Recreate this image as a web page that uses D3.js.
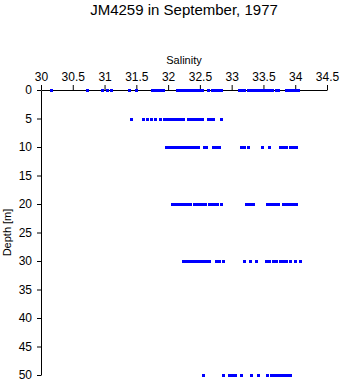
<!DOCTYPE html>
<html>
<head>
  <meta charset="utf-8">
  <title>JM4259 salinity</title>
  <script src="https://d3js.org/d3.v7.min.js"></script>
  <style>
    body { margin: 0; background: #fff; }
    text { font-family: "Liberation Sans", Arial, sans-serif; fill: #000; }
    .axis path, .axis line { stroke: #000; stroke-width: 1; }
  </style>
</head>
<body>
<div id="chart"></div>
<script>
// salinity readings at each sampled depth
var depths = [0, 5, 10, 20, 30, 50];
var sal0 = [30.16, 30.73, 30.96, 31.04, 31.10, 31.38, 31.49, 31.74, 31.78, 31.83, 31.88, 31.92,
  32.14, 32.18, 32.22, 32.26, 32.30, 32.34, 32.38, 32.42, 32.46, 32.50, 32.53, 32.62, 32.69,
  32.74, 32.79, 32.83, 33.11, 33.16, 33.20, 33.25, 33.30, 33.34, 33.38, 33.43, 33.48, 33.52,
  33.57, 33.60, 33.64, 33.69, 33.73, 33.85, 33.89, 33.93, 33.97, 34.01, 34.05];
var sal5 = [31.41, 31.61, 31.67, 31.73, 31.79, 31.88, 31.93, 31.97, 32.02, 32.06, 32.11, 32.15,
  32.20, 32.24, 32.32, 32.36, 32.40, 32.44, 32.48, 32.53, 32.62, 32.66, 32.70, 32.84];
var sal10 = [31.96, 31.99, 32.02, 32.06, 32.09, 32.12, 32.15, 32.18, 32.21, 32.25, 32.28, 32.31,
  32.35, 32.39, 32.43, 32.47, 32.56, 32.60, 32.71, 32.76, 32.80, 33.15, 33.20, 33.26, 33.47,
  33.58, 33.76, 33.81, 33.86, 33.91, 33.96, 34.01];
var sal20 = [32.06, 32.10, 32.14, 32.18, 32.22, 32.26, 32.30, 32.35, 32.40, 32.44, 32.48, 32.53,
  32.58, 32.64, 32.68, 32.72, 32.77, 32.84, 33.22, 33.26, 33.30, 33.34, 33.56, 33.60, 33.64,
  33.68, 33.73, 33.80, 33.85, 33.89, 33.93, 33.97, 34.02];
var sal30 = [32.23, 32.28, 32.33, 32.38, 32.42, 32.46, 32.50, 32.55, 32.60, 32.65, 32.75, 32.80,
  32.86, 33.19, 33.29, 33.38, 33.54, 33.59, 33.65, 33.70, 33.76, 33.81, 33.86, 33.91, 34.00, 34.08];
var sal50 = [32.55, 32.87, 32.96, 33.01, 33.06, 33.15, 33.30, 33.41, 33.55, 33.62, 33.66, 33.70,
  33.74, 33.78, 33.83, 33.87, 33.92];
var salTicks = [30, 30.5, 31, 31.5, 32, 32.5, 33, 33.5, 34, 34.5];
var depthTicks = [0, 5, 10, 15, 20, 25, 30, 35, 40, 45, 50];

var margin = { top: 90, right: 13, bottom: 9, left: 41 },
  width = 340 - margin.left - margin.right,
  height = 384 - margin.top - margin.bottom;

var svg = d3.select("#chart")
  .append("svg")
  .attr("width", 340)
  .attr("height", 384);

var g = svg.append("g")
  .attr("transform", "translate(" + margin.left + "," + margin.top + ")");

var x = d3.scaleLinear().domain([30, 34.5]).range([0, width]);
var y = d3.scaleLinear().domain([0, 50]).range([0, height]);

// flatten into points
var allSal = [sal0, sal5, sal10, sal20, sal30, sal50];
var points = [];
depths.forEach(function (d, i) {
  allSal[i].forEach(function (s) { points.push({ depth: d, sal: s }); });
});

// axes
g.append("g")
  .attr("class", "axis")
  .call(d3.axisTop(x).tickValues(salTicks).tickFormat(d3.format("")).tickSize(5).tickSizeOuter(0))
  .call(function (a) { a.selectAll("text").attr("font-size", 12).attr("dy", "-0.1em"); });

g.append("g")
  .attr("class", "axis")
  .call(d3.axisLeft(y).tickValues(depthTicks).tickSize(4).tickSizeOuter(0))
  .call(function (a) { a.selectAll("text").attr("font-size", 12).attr("x", -9); });

// points
g.selectAll("rect.pt")
  .data(points)
  .enter()
  .append("rect")
  .attr("class", "pt")
  .attr("x", function (d) { return Math.round(x(d.sal)) - 1; })
  .attr("y", function (d) { return Math.round(y(d.depth)) - 1; })
  .attr("width", 3)
  .attr("height", 3)
  .attr("shape-rendering", "crispEdges")
  .attr("fill", "#0000ff");

// labels
svg.append("text")
  .attr("x", margin.left + width / 2)
  .attr("y", 15)
  .attr("text-anchor", "middle")
  .attr("font-size", 15)
  .text("JM4259 in September, 1977");

svg.append("text")
  .attr("x", margin.left + width / 2)
  .attr("y", 64)
  .attr("text-anchor", "middle")
  .attr("font-size", 11)
  .text("Salinity");

svg.append("text")
  .attr("transform", "translate(11," + (margin.top + height / 2) + ") rotate(-90)")
  .attr("text-anchor", "middle")
  .attr("font-size", 11)
  .text("Depth [m]");
</script>
</body>
</html>
